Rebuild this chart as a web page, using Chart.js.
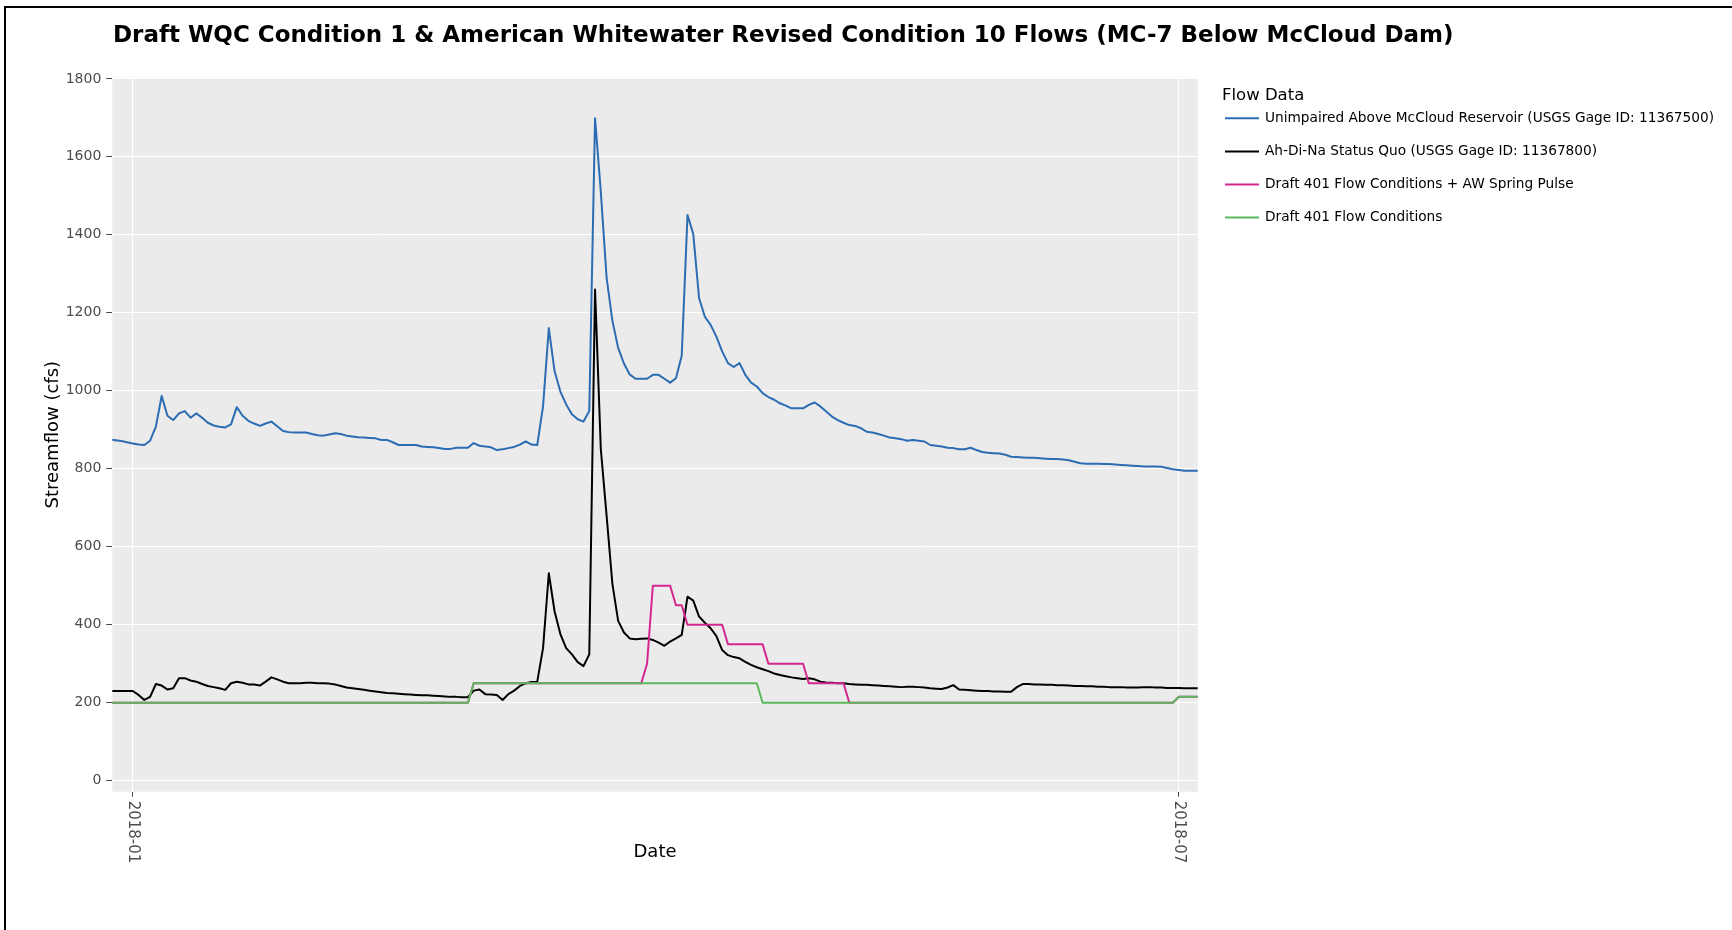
<!DOCTYPE html>
<html>
<head>
<meta charset="utf-8">
<title>MC-7 Below McCloud Dam</title>
<script src="https://cdn.jsdelivr.net/npm/chart.js@4.4.1/dist/chart.umd.min.js"></script>
<style>
  html, body { margin: 0; padding: 0; background: #fff; }
  #wrap { position: relative; width: 1732px; height: 930px; overflow: hidden; }
  #frame { position: absolute; left: 4px; top: 6px; right: -10px; bottom: -10px;
           border-top: 2px solid #000; border-left: 2px solid #000; pointer-events: none; }
</style>
</head>
<body>
<div id="wrap">
  <canvas id="flowChart" width="1732" height="930"></canvas>
  <div id="frame"></div>
</div>
<script>
"use strict";

// ---- data (daily values) ----
const startDate = "2017-12-28";          // date of the first daily value
const axisStart = "2017-12-28T11:00Z";
const axisEnd = "2018-07-04T07:00Z";
const tickDates = ["2018-01-01", "2018-07-01"];
const tickLabels = ["2018-01", "2018-07"];
const yTicks = [0, 200, 400, 600, 800, 1000, 1200, 1400, 1600, 1800];

// Unimpaired Above McCloud Reservoir (USGS 11367500)
const unimpairedFlow = [
  875, 873, 871, 868, 865, 862, 861, 872, 908, 987,
  936, 925, 942, 948, 931, 942, 931, 918, 911, 908,
  906, 914, 958, 936, 923, 916, 910, 916, 921, 909,
  897, 894, 893, 893, 893, 889, 886, 885, 888, 891,
  889, 885, 883, 881, 880, 879, 878, 874, 874, 868,
  861, 861, 861, 861, 857, 856, 855, 853, 851, 851,
  854, 854, 854, 866, 859, 857, 855, 848, 850, 853,
  856, 862, 870, 862, 861, 960, 1161, 1050, 998, 965,
  940, 927, 921, 948, 1699, 1510, 1290, 1180, 1110, 1070,
  1042, 1031, 1031, 1031, 1041, 1041, 1031, 1021, 1032, 1090,
  1451, 1402, 1238, 1190, 1169, 1139, 1101, 1071, 1061, 1071,
  1041, 1021, 1011, 994, 984, 977, 968, 962, 955, 955,
  955, 964, 970, 960, 947, 934, 925, 918, 912, 910,
  904, 895, 893, 889, 885, 880, 878, 876, 872, 874,
  872, 870, 861, 859, 857, 854, 853, 850, 850, 854,
  848, 843, 841, 840, 839, 836, 831, 830, 829, 828,
  828, 827, 826, 825, 825, 824, 822, 818, 814, 813,
  813, 813, 812, 812, 811, 810, 809, 808, 807, 806,
  806, 806, 805, 802, 799, 797, 795, 795, 795, 795
];

// Ah-Di-Na Status Quo (USGS 11367800)
const statusQuoFlow = [
  230, 230, 230, 230, 230, 220, 207, 215, 248, 244,
  234, 237, 263, 263, 257, 254, 248, 243, 240, 237,
  233, 250, 254, 251, 247, 247, 244, 254, 265, 260,
  254, 250, 250, 250, 251, 251, 250, 250, 249, 247,
  243, 239, 237, 235, 233, 231, 229, 227, 225, 224,
  223, 222, 221, 220, 219, 219, 218, 217, 216, 215,
  215, 214, 214, 231, 234, 222, 221, 220, 207, 222,
  231, 243, 250, 253, 254, 340, 532, 434, 376, 340,
  324, 304, 294, 324, 1260, 850, 680, 505, 410, 380,
  365, 363, 364, 365, 361, 354, 346, 357, 365, 374,
  472, 462, 421, 405, 391, 371, 335, 322, 317, 314,
  305, 297, 291, 286, 281, 275, 271, 268, 265, 263,
  261, 263, 260, 254, 252, 251, 250, 250, 248, 247,
  246, 246, 245, 244, 243, 242, 241, 240, 241, 241,
  240, 239, 237, 236, 235, 239, 245, 234, 233, 232,
  231, 230, 230, 229, 229, 228, 228, 240, 248, 248,
  247, 247, 246, 246, 245, 245, 244, 243, 243, 242,
  242, 241, 241, 240, 240, 240, 239, 239, 239, 240,
  240, 239, 239, 238, 238, 238, 237, 237, 237, 237
];

// Draft 401 Flow Conditions + AW Spring Pulse (change points)
const pulseDates = ["2017-12-28", "2018-02-28", "2018-03-01", "2018-03-30", "2018-03-31",
  "2018-04-01", "2018-04-04", "2018-04-05", "2018-04-06", "2018-04-07", "2018-04-13",
  "2018-04-14", "2018-04-20", "2018-04-21", "2018-04-27", "2018-04-28", "2018-05-04",
  "2018-05-05", "2018-06-30", "2018-07-01", "2018-07-05"];
const pulseFlow = [200, 200, 250, 250, 300, 500, 500, 450, 450, 400, 400,
  350, 350, 300, 300, 250, 250, 200, 200, 215, 215];

// Draft 401 Flow Conditions (change points)
const draftDates = ["2017-12-28", "2018-02-28", "2018-03-01", "2018-04-19", "2018-04-20",
  "2018-06-30", "2018-07-01", "2018-07-05"];
const draftFlow = [200, 200, 250, 250, 200, 200, 215, 215];

const seriesNames = [
  "Unimpaired Above McCloud Reservoir (USGS Gage ID: 11367500)",
  "Ah-Di-Na Status Quo (USGS Gage ID: 11367800)",
  "Draft 401 Flow Conditions + AW Spring Pulse",
  "Draft 401 Flow Conditions"
];
const seriesColors = ["#2b6cb3", "#000000", "#d3268e", "#5cb85c"];

const chartTitle = "Draft WQC Condition 1 & American Whitewater Revised Condition 10 Flows (MC-7 Below McCloud Dam)";
const FONT = "'DejaVu Sans', Verdana, sans-serif";

// ---- helpers ----
// days since 2018-01-01 (the x scale is linear in days)
function dayNum(s) {
    let d = s.length === 10 ? s + "T00:00Z" : s;
    return (Date.parse(d) - Date.parse("2018-01-01T00:00Z")) / 86400000;
}

function dailyPoints(values) {
    let first = dayNum(startDate);
    return values.map((v, i) => ({ x: first + i, y: v }));
}

function pairPoints(dates, values) {
    return dates.map((d, i) => ({ x: dayNum(d), y: values[i] }));
}

/* plot panel background */
const panelBg = {
    id: "panelBg",
    beforeDraw(chart) {
        let a = chart.chartArea;
        let c = chart.ctx;
        c.save();
        c.fillStyle = "#ebebeb";
        c.fillRect(a.left, a.top, a.right - a.left, a.bottom - a.top);
        c.restore();
    }
};

/* title, rotated date labels and legend */
const extras = {
    id: "extras",
    afterDraw(chart) {
        let c = chart.ctx;
        let a = chart.chartArea;
        let xs = chart.scales.x;
        c.save();

        // title
        c.fillStyle = "#000";
        c.font = "bold 23px " + FONT;
        c.textAlign = "left";
        c.textBaseline = "alphabetic";
        c.fillText(chartTitle, 113, 42);

        // x tick labels, reading top to bottom
        c.fillStyle = "#4d4d4d";
        c.font = "15px " + FONT;
        c.textBaseline = "middle";
        tickDates.forEach((d, i) => {
            c.save();
            c.translate(xs.getPixelForValue(dayNum(d)), a.bottom + 9);
            c.rotate(Math.PI / 2);
            c.fillText(tickLabels[i], 0, 0);
            c.restore();
        });

        // legend
        c.fillStyle = "#000";
        c.font = "16.5px " + FONT;
        c.textBaseline = "alphabetic";
        c.fillText("Flow Data", 1222, 100);
        c.font = "13.7px " + FONT;
        c.textBaseline = "middle";
        seriesNames.forEach((name, i) => {
            let y = 118.3 + i * 33.1;
            c.strokeStyle = seriesColors[i];
            c.lineWidth = 2;
            c.beginPath();
            c.moveTo(1225, y);
            c.lineTo(1259, y);
            c.stroke();
            c.fillStyle = "#000";
            c.fillText(name, 1265, y);
        });
        c.restore();
    }
};

function lineSet(i, points, order) {
    return {
        label: seriesNames[i],
        data: points,
        borderColor: seriesColors[i],
        backgroundColor: seriesColors[i],
        borderWidth: 2,
        borderJoinStyle: "round",
        pointRadius: 0,
        tension: 0,
        fill: false,
        order: order
    };
}

let ctx = document.getElementById("flowChart");
let flowChart = new Chart(ctx, {
    type: "line",
    data: {
        datasets: [
            lineSet(0, dailyPoints(unimpairedFlow), 4),
            lineSet(1, dailyPoints(statusQuoFlow), 3),
            lineSet(2, pairPoints(pulseDates, pulseFlow), 2),
            lineSet(3, pairPoints(draftDates, draftFlow), 1)
        ]
    },
    options: {
        responsive: false,
        animation: false,
        events: [],
        layout: { padding: { left: 0, right: 534.3, top: 77.7, bottom: 0 } },
        plugins: {
            legend: { display: false },
            title: { display: false },
            tooltip: { enabled: false }
        },
        scales: {
            x: {
                type: "linear",
                min: dayNum(axisStart),
                max: dayNum(axisEnd),
                afterBuildTicks: (s) => { s.ticks = tickDates.map(d => ({ value: dayNum(d) })); },
                afterFit: (s) => { s.height = 138.3; },
                ticks: { display: false },
                grid: { color: "#ffffff", lineWidth: 1, tickColor: "#444", tickLength: 5 },
                border: { display: false },
                title: {
                    display: true, text: "Date", color: "#000",
                    font: { family: FONT, size: 18 },
                    padding: { top: 0, bottom: 67 }
                }
            },
            y: {
                type: "linear",
                min: -28.2,
                max: 1803,
                afterBuildTicks: (s) => { s.ticks = yTicks.map(v => ({ value: v })); },
                afterFit: (s) => { s.width = 112.3; },
                ticks: {
                    color: "#4d4d4d", font: { family: FONT, size: 14 }, padding: 5,
                    callback: (v) => String(v)
                },
                grid: { color: "#ffffff", lineWidth: 1, tickColor: "#444", tickLength: 6 },
                border: { display: false },
                title: {
                    display: true, text: "Streamflow (cfs)", color: "#000",
                    font: { family: FONT, size: 18 },
                    padding: { top: 43, bottom: 0 }
                }
            }
        }
    },
    plugins: [panelBg, extras]
});
</script>
</body>
</html>
